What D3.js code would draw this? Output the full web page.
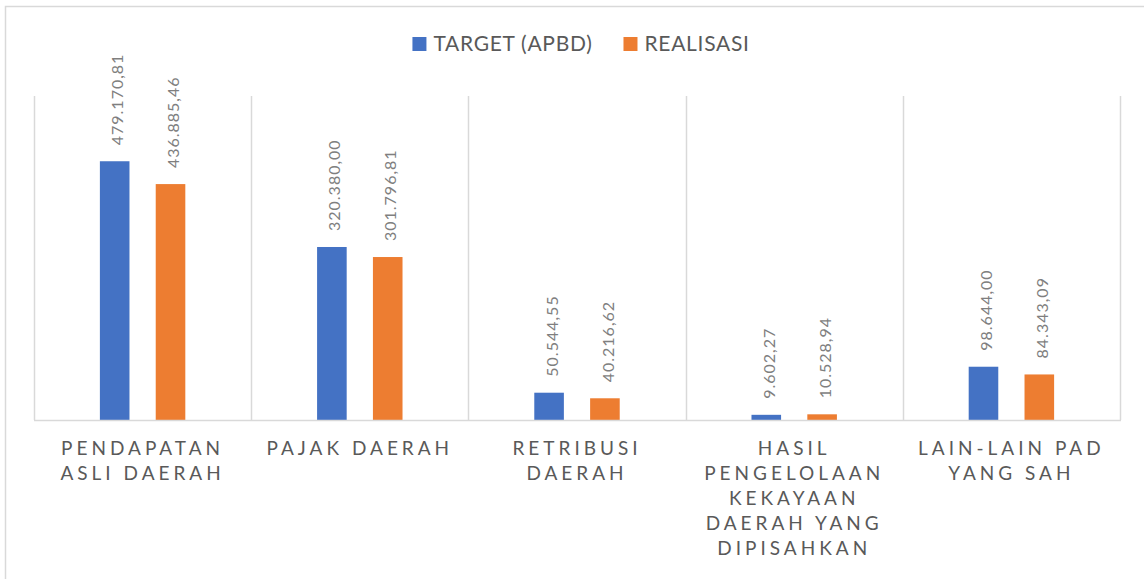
<!DOCTYPE html>
<html>
<head>
<meta charset="utf-8">
<script src="https://cdn.jsdelivr.net/npm/d3@7"></script>
<style>
  body { margin: 0; background: #fff; }
  svg { display: block; font-family: Lato, 'Open Sans', sans-serif; }
</style>
</head>
<body>
<div id="chart"></div>
<script>
// data
let categories = [
  'PENDAPATAN ASLI DAERAH',
  'PAJAK DAERAH',
  'RETRIBUSI DAERAH',
  'HASIL PENGELOLAAN KEKAYAAN DAERAH YANG DIPISAHKAN',
  'LAIN-LAIN PAD YANG SAH',
];
// wrapped tick labels as they appear under the axis
let categoryLines = [
  ['PENDAPATAN', 'ASLI DAERAH'],
  ['PAJAK DAERAH'],
  ['RETRIBUSI', 'DAERAH'],
  ['HASIL', 'PENGELOLAAN', 'KEKAYAAN', 'DAERAH YANG', 'DIPISAHKAN'],
  ['LAIN-LAIN PAD', 'YANG SAH'],
];
let seriesNames = ['TARGET (APBD)', 'REALISASI'];
let targetValues = [479170.81, 320380.0, 50544.55, 9602.27, 98644.0];
let realisasiValues = [436885.46, 301796.81, 40216.62, 10528.94, 84343.09];
let seriesColors = ['#4472c4', '#ed7d31'];

let W = 1144,
  H = 579;
let plot = { left: 34, right: 1120, top: 96, bottom: 420 };

// indonesian number format 479.170,81
let idFormat = d3.formatLocale({ decimal: ',', thousands: '.', grouping: [3], currency: ['', ''] }).format(',.2f');

let data = categories.map((c, i) => ({
  category: c,
  lines: categoryLines[i],
  values: [targetValues[i], realisasiValues[i]],
}));

const svg = d3.select('#chart').append('svg').attr('width', W).attr('height', H);

// outer chart border (only the top and left edges fall inside the picture)
svg.append('path')
  .attr('d', `M5.5,${H + 2}V6.5H${W + 2}`)
  .attr('fill', 'none')
  .attr('stroke', '#d9d9d9')
  .attr('stroke-width', 1.5);

let x0 = d3.scaleBand().domain(categories).range([plot.left, plot.right]).padding(0);
let x1 = d3.scaleBand().domain(seriesNames).range([0, x0.bandwidth()]).paddingInner(0.47).paddingOuter(1.18);
let y = d3.scaleLinear().domain([0, 600000]).range([plot.bottom, plot.top]);

// vertical category separators
svg.append('g')
  .attr('class', 'grid')
  .selectAll('line')
  .data(categories.concat(['end']))
  .join('line')
  .attr('x1', (d, i) => Math.round(plot.left + i * x0.step()) + 0.5)
  .attr('x2', (d, i) => Math.round(plot.left + i * x0.step()) + 0.5)
  .attr('y1', plot.top)
  .attr('y2', plot.bottom)
  .attr('stroke', '#d9d9d9')
  .attr('stroke-width', 1.5);

// bars
let groups = svg.append('g')
  .attr('class', 'bars')
  .selectAll('g')
  .data(data)
  .join('g')
  .attr('transform', (d) => `translate(${x0(d.category)},0)`);

groups.selectAll('rect')
  .data((d) => d.values.map((v, j) => ({ name: seriesNames[j], value: v, j: j })))
  .join('rect')
  .attr('x', (d) => x1(d.name))
  .attr('y', (d) => y(d.value))
  .attr('width', x1.bandwidth())
  .attr('height', (d) => y(0) - y(d.value))
  .attr('fill', (d) => seriesColors[d.j]);

// rotated value labels
groups.selectAll('text')
  .data((d) => d.values.map((v, j) => ({ name: seriesNames[j], value: v })))
  .join('text')
  .attr('transform', (d) => `translate(${x1(d.name) + x1.bandwidth() / 2 + 3},${y(d.value) - 16}) rotate(-90)`)
  .attr('dy', '0.35em')
  .attr('font-size', 16)
  .attr('letter-spacing', 1)
  .attr('fill', '#7f7f7f')
  .text((d) => idFormat(d.value));

// baseline
svg.append('line')
  .attr('x1', plot.left)
  .attr('x2', plot.right + 1)
  .attr('y1', plot.bottom + 0.5)
  .attr('y2', plot.bottom + 0.5)
  .attr('stroke', '#d9d9d9')
  .attr('stroke-width', 1.5);

// category labels
let xLabels = svg.append('g')
  .attr('class', 'x-axis')
  .selectAll('text')
  .data(data)
  .join('text')
  .attr('text-anchor', 'middle')
  .attr('font-size', 19)
  .attr('letter-spacing', 4)
  .attr('fill', '#595959');

xLabels.selectAll('tspan')
  .data((d) => d.lines.map((l) => ({ line: l, cx: x0(d.category) + x0.bandwidth() / 2 })))
  .join('tspan')
  .attr('x', (d) => d.cx)
  .attr('y', (d, i) => 455 + i * 25)
  .text((d) => d.line);

// legend
let legend = svg.append('g').attr('class', 'legend');
let items = legend.selectAll('g').data(seriesNames).join('g');
items.append('rect')
  .attr('width', 14)
  .attr('height', 14)
  .attr('y', 37)
  .attr('fill', (d, i) => seriesColors[i]);
items.append('text')
  .attr('x', 21)
  .attr('y', 51)
  .attr('font-size', 21)
  .attr('letter-spacing', 0.7)
  .attr('fill', '#595959')
  .text((d) => d);

let offsets = [];
let cursor = 0;
items.each(function () {
  offsets.push(cursor);
  cursor += 21 + d3.select(this).select('text').node().getComputedTextLength() + 31;
});
let total = cursor - 31;
let startX = 581 - total / 2;
items.attr('transform', (d, i) => `translate(${startX + offsets[i]},0)`);
</script>
</body>
</html>
